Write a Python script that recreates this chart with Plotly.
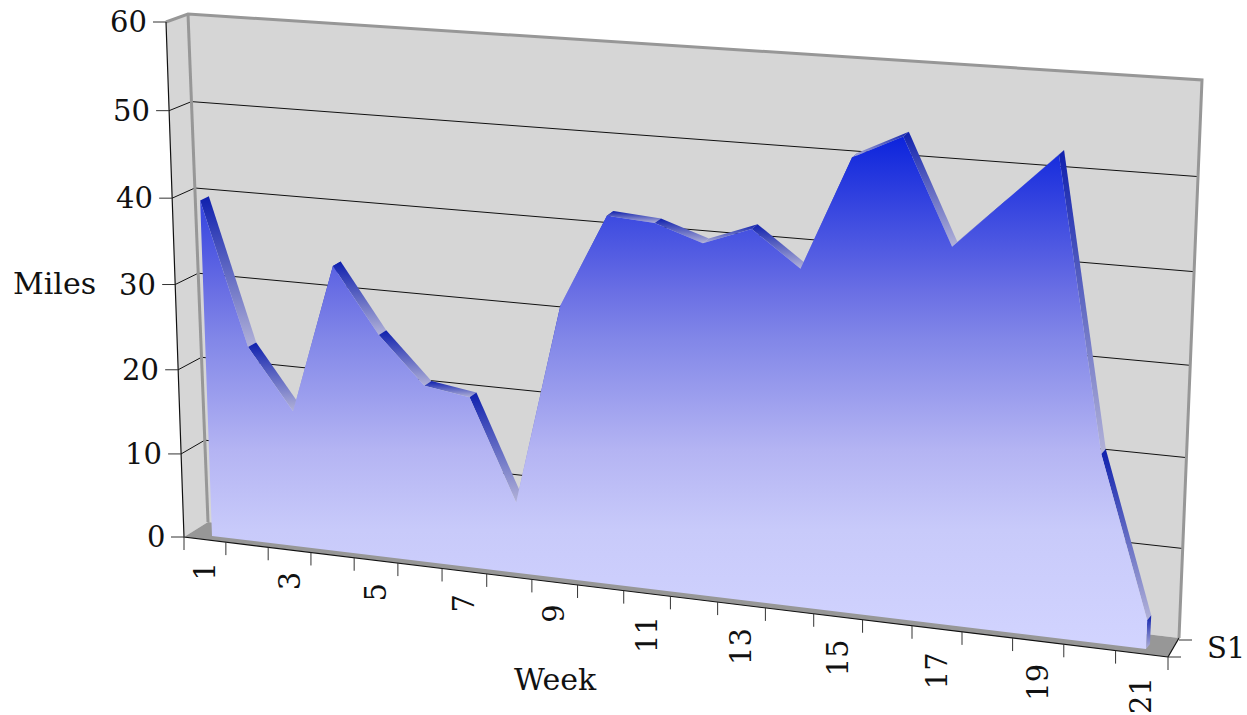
import numpy as np
import plotly.graph_objects as go

weeks = list(range(1, 22))
miles = [40, 23.3, 16.2, 33.7, 26.2, 20.8, 20, 8.3, 31.5, 42, 41.6, 39.8, 41.8, 37.9, 50.3, 52.9, 41.6, 46.8, 52.1, 20.8, 3.2]
y_ticks = [0, 10, 20, 30, 40, 50, 60]
x_tick_labels = [1, 3, 5, 7, 9, 11, 13, 15, 17, 19, 21]
FONT = "DejaVu Serif"

def homography(src, dst):
    A, b = [], []
    for (u, v), (x, y) in zip(src, dst):
        A.append([u, v, 1, 0, 0, 0, -u * x, -v * x]); b.append(x)
        A.append([0, 0, 0, u, v, 1, -u * y, -v * y]); b.append(y)
    return np.append(np.linalg.solve(np.array(A, float), np.array(b, float)), 1).reshape(3, 3)

def proj(H, u, v):
    p = H @ np.array([u, v, 1.0])
    return float(p[0] / p[2]), float(p[1] / p[2])

corners_w = [(1, 0), (21, 0), (1, 60), (21, 60)]
corners_i = [(0, 0), (21, 0), (0, 60), (21, 60)]
H_front = homography(corners_w, [(212, 536), (1146, 649), (194, 26), (1169, 85)])
H_back = homography(corners_w, [(220, 531), (1150, 644), (203, 22), (1174, 80)])
H_wall = homography(corners_i, [(208, 522), (1179, 638), (188, 14), (1202, 80)])
H_axis = homography(corners_i, [(184, 537), (1168, 657), (166, 22), (1192, 80)])

fig = go.Figure()

def line(pts, color, width):
    fig.add_trace(go.Scatter(x=[p[0] for p in pts], y=[p[1] for p in pts], mode="lines",
                             line=dict(color=color, width=width), hoverinfo="skip", showlegend=False))

def poly(pts, color=None, scale=None, span=None):
    xs = [p[0] for p in pts] + [pts[0][0]]
    ys = [p[1] for p in pts] + [pts[0][1]]
    kw = dict(x=xs, y=ys, mode="lines", fill="toself", line=dict(width=0), hoverinfo="skip", showlegend=False)
    if scale:
        lo, hi = span if span else (min(ys), max(ys))
        kw["fillgradient"] = dict(type="vertical", colorscale=scale, start=lo, stop=hi)
    else:
        kw["fillcolor"] = color
    fig.add_trace(go.Scatter(**kw))

WALL = "#d6d6d6"
GREY = "#979797"
RIDGE = [[0, "#0f20ae"], [1, "#b2b2d8"]]
FACE_TOP, FACE_BOTTOM = 133, 650
FACE = [[(y - FACE_TOP) / (FACE_BOTTOM - FACE_TOP), c] for y, c in
        [(133, "rgb(10,34,220)"), (290, "rgb(105,110,228)"), (340, "rgb(130,135,232)"),
         (450, "rgb(180,180,243)"), (530, "rgb(200,202,250)"), (650, "rgb(210,212,255)")]]

# walls and floor
poly([proj(H_wall, 0, 0), proj(H_wall, 21, 0), proj(H_wall, 21, 60), proj(H_wall, 0, 60)], WALL)
poly([proj(H_axis, 0, 0), proj(H_wall, 0, 0), proj(H_wall, 0, 60), proj(H_axis, 0, 60)], WALL)
poly([proj(H_axis, 0, 0), proj(H_wall, 0, 0), proj(H_wall, 21, 0), proj(H_axis, 21, 0)], GREY)

# gridlines
for t in y_ticks[1:-1]:
    line([proj(H_axis, 0, t), proj(H_wall, 0, t), proj(H_wall, 21, t)], "#111111", 1)

# wall frame
line([proj(H_axis, 0, 60), proj(H_wall, 0, 60), proj(H_wall, 21, 60), proj(H_wall, 21, 0)], GREY, 3)
line([proj(H_wall, 0, 60), proj(H_wall, 0, 0)], GREY, 3)

# axes
line([proj(H_axis, 0, 60), proj(H_axis, 0, 0), proj(H_axis, 21, 0)], "#111111", 1.2)
line([proj(H_axis, 21, 0), proj(H_wall, 21, 0)], "#111111", 1.2)
for t in y_ticks:
    x, y = proj(H_axis, 0, t)
    line([(x - 13, y), (x, y)], "#333333", 1)
    fig.add_annotation(x=x - 17, y=y, text=str(t), showarrow=False, xanchor="right", yanchor="middle",
                       font=dict(family=FONT, size=29, color="#111111"))
for i in range(22):
    x, y = proj(H_axis, i, 0)
    line([(x, y), (x, y + 13)], "#333333", 1)
for lab in x_tick_labels:
    x, y = proj(H_axis, lab - 0.5, 0)
    fig.add_annotation(x=x, y=y + 21, text=str(lab), showarrow=False, textangle=-90, xanchor="center", yanchor="top",
                       font=dict(family=FONT, size=29, color="#111111"))
bx, by = proj(H_wall, 21, 0)
line([(bx, by + 2), (bx + 13, by + 2)], "#333333", 1)
ax, ay = proj(H_axis, 21, 0)
line([(ax, ay), (ax + 13, ay)], "#333333", 1)

# area ridge strips (behind the front face)
front = [proj(H_front, w, m) for w, m in zip(weeks, miles)]
back = [proj(H_back, w, m) for w, m in zip(weeks, miles)]
for i in range(len(weeks) - 1):
    poly([front[i], back[i], back[i + 1], front[i + 1]], scale=RIDGE)
poly([front[-1], back[-1], proj(H_back, 21, 0), proj(H_front, 21, 0)], scale=RIDGE)

# area front face
area = front + [proj(H_front, 21, 0), proj(H_front, 1, 0)]
poly(area, scale=FACE, span=(FACE_TOP, FACE_BOTTOM))

fig.add_annotation(x=54, y=283, text="Miles", showarrow=False, font=dict(family=FONT, size=30, color="#111111"))
fig.add_annotation(x=555, y=679, text="Week", showarrow=False, font=dict(family=FONT, size=30, color="#111111"))
fig.add_annotation(x=1226, y=648, text="S1", showarrow=False, font=dict(family=FONT, size=29, color="#111111"))

fig.update_layout(width=1247, height=715, margin=dict(l=0, r=0, t=0, b=0), plot_bgcolor="white", paper_bgcolor="white",
                  showlegend=False,
                  xaxis=dict(range=[0, 1247], visible=False, fixedrange=True),
                  yaxis=dict(range=[715, 0], visible=False, fixedrange=True))
fig.write_html("out.html", post_script="document.body.style.margin='0';", config={"displayModeBar": False})
